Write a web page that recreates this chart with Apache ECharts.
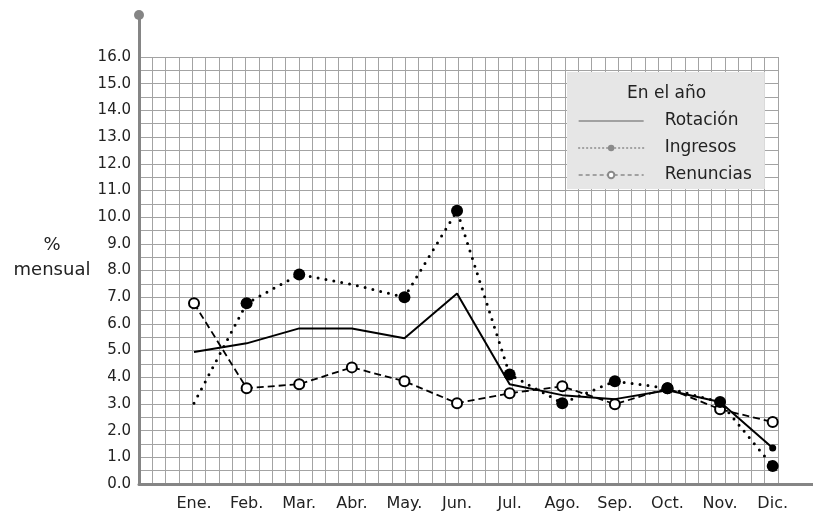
<!DOCTYPE html>
<html>
<head>
<meta charset="utf-8">
<script src="https://cdn.jsdelivr.net/npm/echarts@6/dist/echarts.min.js"></script>
<style>
  html, body { margin: 0; padding: 0; background: #fff; }
  #chart { width: 813px; height: 518px; }
</style>
</head>
<body>
<div id="chart"></div>
<script>
// datos mensuales (%)
var months = ["Ene.", "Feb.", "Mar.", "Abr.", "May.", "Jun.", "Jul.", "Ago.", "Sep.", "Oct.", "Nov.", "Dic."];
var rotacion = [4.95, 5.27, 5.83, 5.83, 5.46, 7.14, 3.74, 3.33, 3.18, 3.51, 3.07, 1.35];
var ingresos = [3.03, 6.77, 7.85, 7.48, 7.0, 10.24, 4.1, 3.03, 3.85, 3.59, 3.07, 0.67];
var renuncias = [6.77, 3.59, 3.74, 4.37, 3.85, 3.03, 3.4, 3.66, 2.99, 3.59, 2.8, 2.32];
var yMin = 0;
var yMax = 16;

var font = "'DejaVu Sans', sans-serif";
var axisGray = "#858585";
var gridGray = "#a3a3a3";
var legendGray = "#8a8a8a";

// Ene. y Abr. sin marcador en Ingresos
var ingresosData = ingresos.map(function (v, i) {
  if (i === 0 || i === 3) return { value: v, symbol: "none" };
  return v;
});
// solo Dic. lleva punto en Rotación
var rotacionData = rotacion.map(function (v, i) {
  if (i === rotacion.length - 1) return { value: v, symbol: "circle", symbolSize: 7 };
  return v;
});

var myChart = echarts.init(document.getElementById("chart"));
var option = {
  backgroundColor: "#fff",
  animation: false,
  textStyle: { fontFamily: font },
  title: {
    text: "En el año",
    left: 627,
    top: 85,
    padding: 0,
    z: 10,
    textStyle: { fontFamily: font, fontSize: 17, fontWeight: "normal", color: "#222" }
  },
  legend: {
    orient: "vertical",
    left: 567,
    top: 72,
    padding: [39, 13, 4, 11],
    backgroundColor: "#e6e6e6",
    itemWidth: 65,
    itemHeight: 8,
    itemGap: 7,
    textStyle: { fontFamily: font, fontSize: 17, lineHeight: 20, color: "#222", padding: [0, 0, 0, 16] },
    lineStyle: { color: legendGray, width: 1.3 },
    itemStyle: { color: legendGray, borderColor: legendGray },
    data: [
      { name: "Rotación", itemStyle: { opacity: 0 } },
      { name: "Ingresos", lineStyle: { type: [1, 3], width: 1.3 } },
      { name: "Renuncias", lineStyle: { type: [4, 3], width: 1.3 } }
    ]
  },
  grid: [
    // marco de ejes
    { left: 139, right: 0, top: 15, bottom: 34 },
    // papel cuadriculado
    { left: 139, right: 35, top: 57, bottom: 34 },
    // datos
    { left: 167.7, right: 14, top: 57, bottom: 34 }
  ],
  xAxis: [
    {
      gridIndex: 0,
      type: "value",
      min: 0,
      max: 1,
      axisLine: { show: true, lineStyle: { color: axisGray, width: 3 } },
      axisTick: { show: false },
      axisLabel: { show: false },
      splitLine: { show: false }
    },
    {
      gridIndex: 1,
      type: "value",
      min: 0,
      max: 48,
      interval: 1,
      axisLine: { show: false },
      axisTick: { show: false },
      axisLabel: { show: false },
      splitLine: { show: true, lineStyle: { color: gridGray, width: 1 } }
    },
    {
      gridIndex: 2,
      type: "category",
      data: months,
      boundaryGap: true,
      axisLine: { show: false },
      axisTick: { show: false },
      axisLabel: { fontFamily: font, fontSize: 16, color: "#222", margin: 12 }
    }
  ],
  yAxis: [
    {
      gridIndex: 0,
      type: "value",
      min: 0,
      max: 1,
      axisLine: {
        show: true,
        symbol: ["none", "circle"],
        symbolSize: [10, 10],
        lineStyle: { color: axisGray, width: 3 }
      },
      axisTick: { show: false },
      axisLabel: { show: false },
      splitLine: { show: false }
    },
    {
      gridIndex: 1,
      type: "value",
      min: yMin,
      max: yMax,
      interval: 0.5,
      name: "%\nmensual\n",
      nameLocation: "middle",
      nameRotate: 0,
      nameGap: 87,
      nameTextStyle: { fontFamily: font, fontSize: 18, color: "#222", align: "center", lineHeight: 25 },
      axisLine: { show: false },
      axisTick: { show: false },
      axisLabel: {
        fontFamily: font,
        fontSize: 15,
        color: "#222",
        margin: 8,
        formatter: function (v) {
          return v % 1 === 0 ? v.toFixed(1) : "";
        }
      },
      splitLine: { show: true, lineStyle: { color: gridGray, width: 1 } }
    },
    {
      gridIndex: 2,
      type: "value",
      min: yMin,
      max: yMax,
      show: false,
      splitLine: { show: false }
    }
  ],
  series: [
    {
      name: "Rotación",
      type: "line",
      xAxisIndex: 2,
      yAxisIndex: 2,
      symbol: "none",
      data: rotacionData,
      lineStyle: { color: "#000", width: 2 },
      itemStyle: { color: "#000" },
      z: 3
    },
    {
      name: "Ingresos",
      type: "line",
      xAxisIndex: 2,
      yAxisIndex: 2,
      symbol: "circle",
      symbolSize: 12,
      data: ingresosData,
      lineStyle: { color: "#000", width: 3, type: [0, 8], cap: "round" },
      itemStyle: { color: "#000" },
      z: 4
    },
    {
      name: "Renuncias",
      type: "line",
      xAxisIndex: 2,
      yAxisIndex: 2,
      symbol: "emptyCircle",
      symbolSize: 10,
      data: renuncias,
      lineStyle: { color: "#000", width: 1.8, type: [7, 4] },
      itemStyle: { color: "#000", borderColor: "#000", borderWidth: 2 },
      z: 3
    }
  ]
};
myChart.setOption(option);
</script>
</body>
</html>
